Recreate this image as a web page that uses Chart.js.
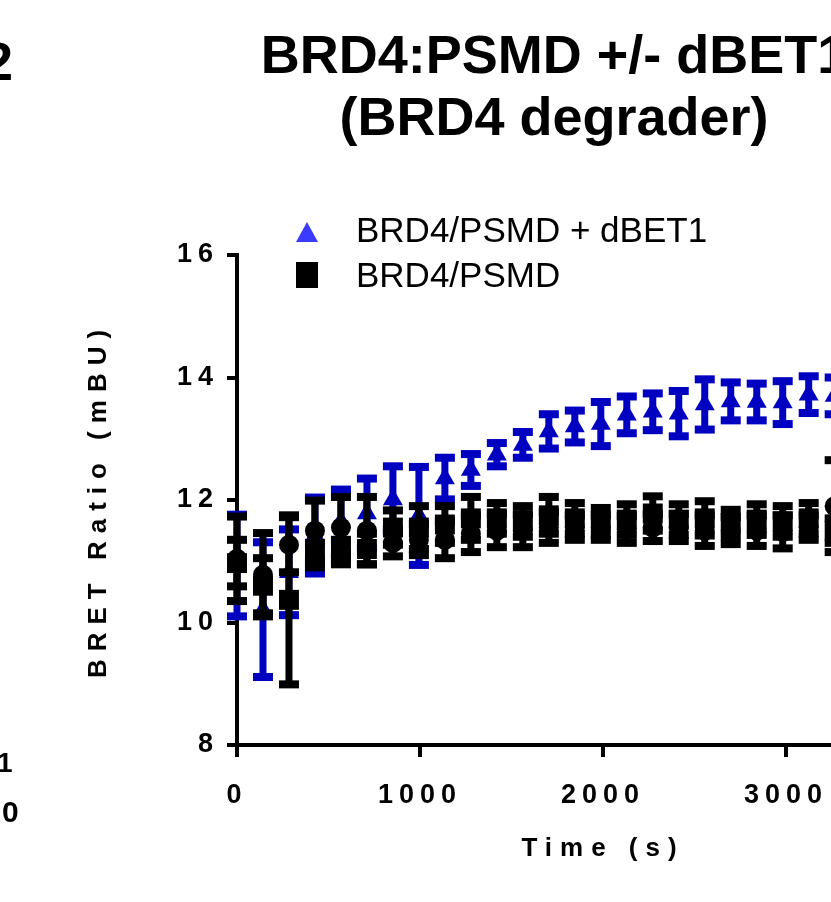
<!DOCTYPE html>
<html><head><meta charset="utf-8">
<script src="https://cdn.jsdelivr.net/npm/chart.js@4/dist/chart.umd.min.js"></script>
<style>
html,body{margin:0;padding:0;background:#fff;overflow:hidden;width:831px;height:902px;}
#wrap{position:absolute;left:0;top:0;width:1096px;height:902px;}
canvas{position:absolute;left:0;top:0;}
.t{position:absolute;font-family:"Liberation Sans",Arial,sans-serif;color:#000;white-space:nowrap;}
.b{font-weight:bold;}
</style></head><body>
<div id="wrap">
<canvas id="c" width="1096" height="902"></canvas>
<div class="t b" style="left:4px;width:1100px;top:23px;font-size:54px;line-height:62px;text-align:center">BRD4:PSMD +/- dBET1<br>(BRD4 degrader)</div>
<div class="t b" style="left:-17px;top:34px;font-size:54px;line-height:54px">2</div>
<div class="t b" style="left:-3px;top:749px;font-size:28px;line-height:28px">1</div>
<div class="t b" style="left:2px;top:797px;font-size:30px;line-height:30px">0</div>
<div style="position:absolute;left:296px;top:222px;width:0;height:0;border-left:11.5px solid transparent;border-right:11.5px solid transparent;border-bottom:20px solid #3b3bff"></div>
<div class="t" id="leg1" style="left:356px;top:210px;font-size:35px;line-height:40px"></div>
<div style="position:absolute;left:296px;top:262px;width:22px;height:26px;background:#000"></div>
<div class="t" id="leg2" style="left:356px;top:255px;font-size:35px;line-height:40px"></div>
</div>
<script>
// ---- data ----
const times = [0, 142, 284, 426, 568, 710, 852, 994, 1136, 1278, 1420, 1562, 1704, 1846, 1988, 2130, 2272, 2414, 2556, 2698, 2840, 2982, 3124, 3266];
const dbetLabel = "BRD4/PSMD + dBET1";
const dbetMean = [10.93, 10.21, 10.82, 11.42, 11.65, 11.78, 12.01, 11.74, 12.35, 12.49, 12.74, 12.9, 13.12, 13.2, 13.24, 13.39, 13.44, 13.41, 13.56, 13.61, 13.6, 13.59, 13.72, 13.7];
const dbetErr  = [0.83, 1.1, 0.7, 0.62, 0.52, 0.57, 0.54, 0.8, 0.34, 0.26, 0.19, 0.21, 0.28, 0.26, 0.36, 0.3, 0.3, 0.37, 0.41, 0.31, 0.3, 0.35, 0.3, 0.3];
const psmdLabel = "BRD4/PSMD";
const psmdMean = [10.97, 10.6, 10.37, 11.1, 11.15, 11.2, 11.55, 11.55, 11.6, 11.7, 11.7, 11.65, 11.75, 11.7, 11.65, 11.68, 11.78, 11.68, 11.7, 11.62, 11.68, 11.65, 11.7, 11.5];
const psmdErr  = [0.38, 0.45, 1.38, 0.2, 0.2, 0.25, 0.28, 0.35, 0.3, 0.35, 0.25, 0.25, 0.3, 0.25, 0.22, 0.25, 0.28, 0.25, 0.28, 0.22, 0.25, 0.25, 0.25, 0.2];
const ctrlLabel = "BRD4/PSMD (circles)";
const ctrlMean = [11.04, 10.78, 11.27, 11.5, 11.55, 11.5, 11.3, 11.35, 11.35, 11.45, 11.5, 11.5, 11.55, 11.55, 11.55, 11.52, 11.55, 11.55, 11.5, 11.5, 11.5, 11.48, 11.55, 11.9];
const ctrlErr  = [0.69, 0.68, 0.45, 0.49, 0.5, 0.55, 0.22, 0.25, 0.3, 0.3, 0.27, 0.27, 0.25, 0.2, 0.2, 0.22, 0.22, 0.22, 0.25, 0.22, 0.25, 0.27, 0.2, 0.75];
const xTicks = [0, 1000, 2000, 3000, 4000];
const yTicks = [8, 10, 12, 14, 16];
const xTitle = "Time (s)";
const yTitle = "BRET Ratio (mBU)";

document.getElementById('leg1').textContent = dbetLabel;
document.getElementById('leg2').textContent = psmdLabel;

const pts = (m) => times.map((t, i) => ({x: t, y: m[i]}));

const errorBars = {
  id: 'errorBars',
  beforeDatasetDraw(chart, args) {
    const ds = chart.data.datasets[args.index];
    if (!ds.errors) return;
    const ctx = chart.ctx, x = chart.scales.x, y = chart.scales.y;
    ctx.save();
    ctx.fillStyle = ds.backgroundColor;
    ds.data.forEach((p, i) => {
      const e = ds.errors[i];
      const px = x.getPixelForValue(p.x);
      const yt = y.getPixelForValue(p.y + e), yb = y.getPixelForValue(p.y - e);
      ctx.fillRect(px - 3.5, yt, 7, yb - yt);
      ctx.fillRect(px - 10, yt - 4, 20, 8);
      ctx.fillRect(px - 10, yb - 4, 20, 8);
    });
    ctx.restore();
  }
};

const spacing = {
  id: 'spacing',
  beforeDraw(chart) {
    chart.ctx.letterSpacing = '6px';
    for (const s of Object.values(chart.scales)) {
      if (!s._wrappedTitle) {
        const orig = s.drawTitle.bind(s);
        s.drawTitle = function () {
          const c = this.ctx; const prev = c.letterSpacing;
          c.letterSpacing = '8px'; orig(); c.letterSpacing = prev;
        };
        s._wrappedTitle = true;
      }
    }
  }
};

const tickFont = {family: '"Liberation Sans", Arial, sans-serif', size: 27, weight: 'bold'};
const titleFont = {family: '"Liberation Sans", Arial, sans-serif', size: 26, weight: 'bold'};

new Chart(document.getElementById('c'), {
  type: 'scatter',
  data: {
    datasets: [
      {label: psmdLabel, data: pts(psmdMean), errors: psmdErr, order: 0, clip: false,
       pointStyle: 'rect', pointRadius: 14.1, backgroundColor: '#000000', borderWidth: 0},
      {label: ctrlLabel, data: pts(ctrlMean), errors: ctrlErr, order: 1, clip: false,
       pointStyle: 'circle', pointRadius: 10, backgroundColor: '#000000', borderWidth: 0},
      {label: dbetLabel, data: pts(dbetMean), errors: dbetErr, order: 2, clip: false,
       pointStyle: 'triangle', pointRadius: 11.5, backgroundColor: '#0000c0', borderWidth: 0}
    ]
  },
  options: {
    responsive: false, animation: false, events: [],
    layout: {padding: {left: 0, top: 255, right: 127, bottom: 0}},
    plugins: {legend: {display: false}, tooltip: {enabled: false}, title: {display: false}},
    scales: {
      x: {
        type: 'linear', min: xTicks[0], max: xTicks[xTicks.length - 1],
        afterFit(s) { s.height = 157; },
        afterBuildTicks(s) { s.ticks = xTicks.map(v => ({value: v})); },
        grid: {display: true, drawOnChartArea: false, drawTicks: true, tickLength: 12, tickWidth: 4, tickColor: '#000', lineWidth: 4, color: '#000'},
        border: {display: true, width: 4, color: '#000'},
        ticks: {font: tickFont, color: '#000', padding: 22, maxRotation: 0, callback: (v) => String(v)},
        title: {display: true, text: xTitle, font: titleFont, color: '#000', padding: {top: 0, bottom: 38}}
      },
      y: {
        type: 'linear', min: yTicks[0], max: yTicks[yTicks.length - 1],
        afterFit(s) { s.width = 237; },
        afterBuildTicks(s) { s.ticks = yTicks.map(v => ({value: v})); },
        grid: {display: true, drawOnChartArea: false, drawTicks: true, tickLength: 10, tickWidth: 4, tickColor: '#000', lineWidth: 4, color: '#000'},
        border: {display: true, width: 4, color: '#000'},
        ticks: {font: tickFont, color: '#000', padding: 8, callback: (v) => String(v)},
        title: {display: true, text: yTitle, font: titleFont, color: '#000', padding: {top: 83, bottom: 0}}
      }
    }
  },
  plugins: [spacing, errorBars]
});
</script>
</body></html>
